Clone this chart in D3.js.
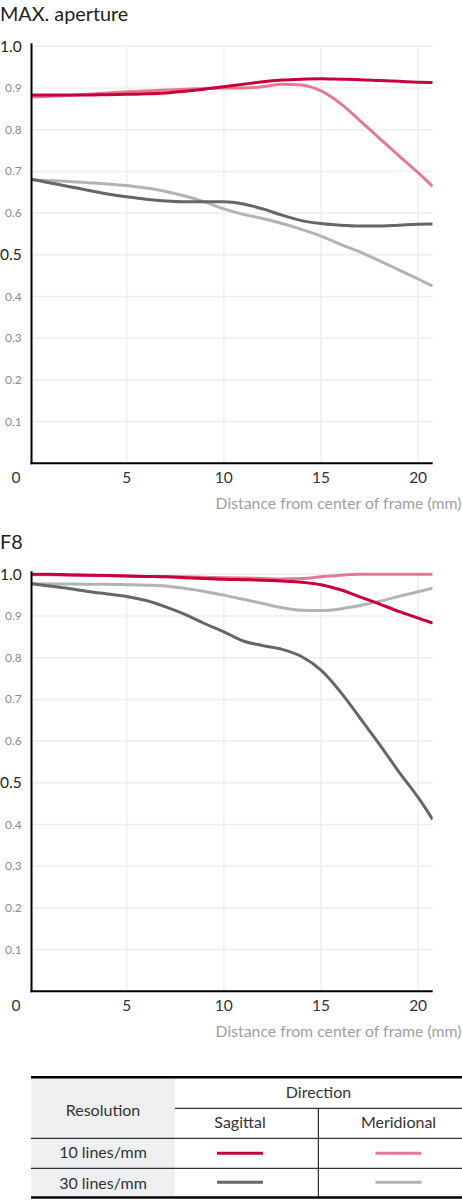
<html>
  <meta charset="utf-8">
  <head>
  <style>
    body { margin: 0; background: #fff; }
    svg { display: block; font-family: Lato, "Open Sans", sans-serif; }
  </style>
  </head>
  <body>
    <div id="chart"></div>
    <script src="https://d3js.org/d3.v7.min.js"></script>
    <script>
    'use strict';

    // distance from center of frame (mm)
    var distances = [0, 1, 2, 3, 4, 5, 6, 7, 8, 9, 10, 11, 12, 13, 14, 15, 16, 17, 18, 19, 20, 20.75];
    var xTicks = [5, 10, 15, 20];
    var yTicks = [0.1, 0.2, 0.3, 0.4, 0.5, 0.6, 0.7, 0.8, 0.9, 1.0];
    var bigTicks = [0.5, 1.0];

    // MAX. aperture
    var maxSag10 = [0.883, 0.883, 0.883, 0.883, 0.884, 0.885, 0.886, 0.888, 0.892, 0.897, 0.903, 0.909, 0.915, 0.919, 0.921, 0.922, 0.921, 0.920, 0.918, 0.916, 0.914, 0.913];
    var maxMer10 = [0.878, 0.880, 0.882, 0.885, 0.888, 0.891, 0.893, 0.895, 0.897, 0.899, 0.900, 0.900, 0.903, 0.909, 0.907, 0.893, 0.863, 0.822, 0.780, 0.738, 0.697, 0.664];
    var maxSag30 = [0.682, 0.673, 0.664, 0.655, 0.646, 0.639, 0.633, 0.629, 0.627, 0.627, 0.627, 0.622, 0.610, 0.595, 0.582, 0.575, 0.571, 0.569, 0.569, 0.571, 0.573, 0.574];
    var maxMer30 = [0.680, 0.678, 0.676, 0.673, 0.670, 0.666, 0.660, 0.652, 0.641, 0.627, 0.610, 0.597, 0.587, 0.575, 0.561, 0.545, 0.525, 0.507, 0.486, 0.464, 0.442, 0.425];

    // F8
    var f8Sag10 = [1.000, 1.000, 0.999, 0.998, 0.997, 0.996, 0.995, 0.994, 0.992, 0.990, 0.988, 0.987, 0.986, 0.984, 0.981, 0.975, 0.963, 0.946, 0.929, 0.911, 0.895, 0.883];
    var f8Mer10 = [0.999, 0.999, 0.998, 0.998, 0.997, 0.996, 0.995, 0.995, 0.994, 0.993, 0.992, 0.991, 0.990, 0.989, 0.990, 0.994, 0.998, 1.000, 1.000, 1.000, 1.000, 1.000];
    var f8Sag30 = [0.978, 0.972, 0.966, 0.959, 0.953, 0.947, 0.937, 0.922, 0.904, 0.882, 0.862, 0.840, 0.829, 0.820, 0.803, 0.770, 0.718, 0.656, 0.593, 0.527, 0.465, 0.412];
    var f8Mer30 = [0.978, 0.977, 0.977, 0.976, 0.976, 0.975, 0.974, 0.972, 0.966, 0.959, 0.950, 0.940, 0.930, 0.920, 0.914, 0.913, 0.917, 0.925, 0.935, 0.947, 0.958, 0.967];

    var colors = { sag10: '#c8003a', mer10: '#e27a95', sag30: '#666666', mer30: '#b3b3b3' };

    var resolutions = ['10 lines/mm', '30 lines/mm'];
    var directions = ['Sagittal', 'Meridional'];

    var width = 462, height = 1200;
    var svg = d3.select('#chart').append('svg')
        .attr('width', width)
        .attr('height', height);

    var x = d3.scaleLinear().domain([0.1, 20.75]).range([31.5, 432.7]);

    function drawChart(top, title, series, id) {
      var y = d3.scaleLinear().domain([0, 1]).range([top + 417, top]);
      var g = svg.append('g');

      g.append('text')
        .attr('x', 0).attr('y', top - 25.5)
        .attr('font-size', 19.8).attr('fill', '#222')
        .text(title);

      // grid
      g.selectAll('.hgrid').data(yTicks).enter().append('line')
        .attr('x1', x.range()[0]).attr('x2', x.range()[1])
        .attr('y1', d => y(d)).attr('y2', d => y(d))
        .attr('stroke', '#eeeeee').attr('stroke-width', 1.5);
      g.selectAll('.vgrid').data(xTicks).enter().append('line')
        .attr('x1', d => x(d)).attr('x2', d => x(d))
        .attr('y1', y(1)).attr('y2', y(0))
        .attr('stroke', '#eeeeee').attr('stroke-width', 1.5);

      // y tick labels
      g.selectAll('.ylab').data(yTicks).enter().append('text')
        .attr('x', d => bigTicks.indexOf(d) >= 0 ? 0 : 5)
        .attr('y', d => y(d) + (bigTicks.indexOf(d) >= 0 ? 5.5 : 4))
        .attr('font-size', d => bigTicks.indexOf(d) >= 0 ? 15.5 : 12)
        .attr('fill', d => bigTicks.indexOf(d) >= 0 ? '#222' : '#8a8a8a')
        .text(d => d3.format('.1f')(d));

      // x tick labels
      g.selectAll('.xlab').data(xTicks).enter().append('text')
        .attr('x', d => x(d)).attr('y', y(0) + 19.5)
        .attr('text-anchor', 'middle')
        .attr('font-size', 15.5).attr('fill', '#333')
        .text(d => d);
      g.append('text')
        .attr('x', 16).attr('y', y(0) + 19.5)
        .attr('text-anchor', 'middle')
        .attr('font-size', 15.5).attr('fill', '#333')
        .text('0');

      g.append('text')
        .attr('x', 461.5).attr('y', y(0) + 45.5)
        .attr('text-anchor', 'end')
        .attr('font-size', 15.8).attr('fill', '#a0a0a0')
        .text('Distance from center of frame (mm)');

      // clip
      svg.append('clipPath').attr('id', id)
        .append('rect')
        .attr('x', x.range()[0]).attr('y', y(1) - 10)
        .attr('width', x.range()[1] - x.range()[0])
        .attr('height', 427);

      var line = d3.line()
        .x((d, i) => x(distances[i]))
        .y(d => y(d))
        .curve(d3.curveMonotoneX);

      var lines = g.append('g').attr('clip-path', 'url(#' + id + ')');
      series.forEach(function(s) {
        lines.append('path')
          .datum(s.values)
          .attr('d', line)
          .attr('fill', 'none')
          .attr('stroke', s.color)
          .attr('stroke-width', 3)
          .attr('stroke-linejoin', 'round');
      });

      // axes
      g.append('line')
        .attr('x1', x.range()[0]).attr('x2', x.range()[0])
        .attr('y1', y(1) - 3).attr('y2', y(0) + 1)
        .attr('stroke', '#000').attr('stroke-width', 2);
      g.append('line')
        .attr('x1', x.range()[0] - 1).attr('x2', x.range()[1])
        .attr('y1', y(0)).attr('y2', y(0))
        .attr('stroke', '#000').attr('stroke-width', 2);
    }

    drawChart(46.3, 'MAX. aperture', [
      { values: maxMer30, color: colors.mer30 },
      { values: maxSag30, color: colors.sag30 },
      { values: maxMer10, color: colors.mer10 },
      { values: maxSag10, color: colors.sag10 }
    ], 'clipA');

    drawChart(574.3, 'F8', [
      { values: f8Mer30, color: colors.mer30 },
      { values: f8Sag30, color: colors.sag30 },
      { values: f8Mer10, color: colors.mer10 },
      { values: f8Sag10, color: colors.sag10 }
    ], 'clipB');

    // legend table
    var t = svg.append('g');
    var tl = 31, tr = 462, tc = 175, tm = 318.3;
    var rows = [1077.3, 1108.3, 1138.3, 1168.3, 1197.5];

    t.append('rect')
      .attr('x', tl).attr('y', rows[0]).attr('width', tc - tl).attr('height', rows[4] - rows[0])
      .attr('fill', '#eeeff1');
    t.append('line').attr('x1', tc).attr('x2', tr).attr('y1', rows[1]).attr('y2', rows[1])
      .attr('stroke', '#000').attr('stroke-width', 1);
    [rows[2], rows[3]].forEach(function(r) {
      t.append('line').attr('x1', tl).attr('x2', tr).attr('y1', r).attr('y2', r)
        .attr('stroke', '#000').attr('stroke-width', 1);
    });
    t.append('line').attr('x1', tm).attr('x2', tm).attr('y1', rows[1]).attr('y2', rows[4])
      .attr('stroke', '#000').attr('stroke-width', 1);
    [rows[0], rows[4]].forEach(function(r) {
      t.append('line').attr('x1', tl).attr('x2', tr).attr('y1', r).attr('y2', r)
        .attr('stroke', '#000').attr('stroke-width', 2.5);
    });

    function cellText(cx, cy, txt) {
      t.append('text')
        .attr('x', cx).attr('y', cy)
        .attr('text-anchor', 'middle')
        .attr('font-size', 16).attr('fill', '#333')
        .text(txt);
    }
    cellText(318.5, 1098, 'Direction');
    cellText(103, 1115.5, 'Resolution');
    cellText(240, 1128, directions[0]);
    cellText(398.5, 1128, directions[1]);
    cellText(103, 1158, resolutions[0]);
    cellText(103, 1188.5, resolutions[1]);

    var swatches = [
      { x: 240, y: 1153.3, c: colors.sag10 },
      { x: 398.5, y: 1153.3, c: colors.mer10 },
      { x: 240, y: 1182.3, c: colors.sag30 },
      { x: 398.5, y: 1182.3, c: colors.mer30 }
    ];
    t.selectAll('.sw').data(swatches).enter().append('line')
      .attr('x1', d => d.x - 23).attr('x2', d => d.x + 23)
      .attr('y1', d => d.y).attr('y2', d => d.y)
      .attr('stroke', d => d.c).attr('stroke-width', 3);
    </script>
  </body>
</html>
